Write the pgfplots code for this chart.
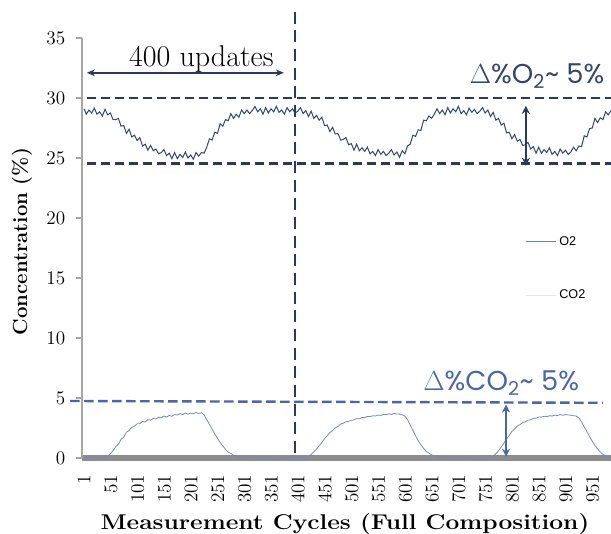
\documentclass[border=0pt]{standalone}
\usepackage{fontspec}
\usepackage{pgfplots}
\usepackage{pgfplotstable}
\pgfplotsset{compat=1.18}
\usetikzlibrary{arrows.meta}
\newfontfamily\poppins{Poppins}
\newfontfamily\libsans{Liberation Sans}
\definecolor{o2col}{RGB}{47,72,122}
\definecolor{navy}{RGB}{40,58,100}
\definecolor{co2col}{RGB}{112,138,198}
\definecolor{co2dash}{RGB}{72,102,170}
\definecolor{o2txt}{RGB}{52,70,110}
\definecolor{lego2}{RGB}{112,128,176}
\definecolor{legco2}{RGB}{226,230,242}
\definecolor{axgray}{RGB}{140,140,140}
\definecolor{ylgray}{RGB}{166,166,166}

\pgfplotstableread{
x y
1 29.1
5 28.65
10 29.0
15 28.75
20 29.15
25 28.65
30 28.85
35 28.5
40 29.05
45 28.6
50 28.75
55 28.2
60 28.2
65 28.3
70 27.65
75 27.7
80 27.05
85 27.4
90 26.75
95 26.9
100 26.45
105 26.7
110 26.0
115 26.15
120 25.65
125 26.05
130 25.6
135 25.75
140 25.35
145 25.45
150 25.7
155 25.2
160 25.4
165 24.95
170 25.45
175 24.95
180 25.3
185 25.05
190 25.5
195 25.0
200 25.25
205 24.9
210 25.45
215 25.15
220 25.45
225 25.4
230 25.9
235 26.6
240 26.5
245 27.15
250 27.05
255 27.85
260 27.65
265 28.2
270 28.1
275 28.7
280 28.3
285 28.65
290 28.4
295 29.0
300 28.7
305 29.0
310 28.7
315 28.95
320 29.3
325 28.85
330 29.1
335 28.65
340 29.2
345 28.75
350 29.1
355 28.85
360 29.3
365 28.8
370 29.0
375 28.65
380 29.2
385 28.85
390 29.1
395 28.75
400 28.9
405 29.2
410 28.7
415 28.95
420 28.45
425 28.9
430 28.3
435 28.55
440 28.15
445 28.4
450 27.7
455 27.75
460 27.2
465 27.55
470 27.0
475 27.05
480 26.5
485 26.55
490 26.7
495 26.1
500 26.2
505 25.65
510 26.15
515 25.6
520 25.85
525 25.55
530 25.9
535 25.35
540 25.55
545 25.2
550 25.7
555 25.3
560 25.55
565 25.2
570 25.4
575 25.7
580 25.25
585 25.5
590 25.05
595 25.6
600 25.35
605 26.0
610 26.15
615 26.9
620 26.8
625 27.35
630 27.3
635 28.15
640 28.1
645 28.5
650 28.3
655 28.65
660 29.1
665 28.7
670 29.0
675 28.6
680 29.2
685 28.75
690 29.1
695 28.85
700 29.3
705 28.7
710 28.95
715 28.6
720 29.15
725 28.8
730 29.05
735 28.7
740 28.9
745 29.2
750 28.75
755 29.0
760 28.45
765 28.8
770 28.15
775 28.3
780 27.75
785 27.9
790 27.1
795 27.15
800 26.6
805 26.95
810 26.4
815 26.55
820 26.05
825 26.1
830 26.3
835 25.75
840 25.95
845 25.4
850 25.9
855 25.4
860 25.7
865 25.45
870 25.85
875 25.3
880 25.55
885 25.2
890 25.75
895 25.4
900 25.65
905 25.3
910 25.5
915 25.9
920 25.6
925 26.0
930 25.95
935 26.85
940 26.75
945 27.45
950 27.5
955 28.3
960 27.95
965 28.35
970 28.2
975 28.85
980 28.6
985 28.95
}\otwo

\pgfplotstableread{
x y
1 0.05
5 0.12
10 0.0
15 0.08
20 0.1
25 0.02
30 0.06
35 0.0
40 0.08
45 0.15
50 0.35
55 0.6
60 0.95
65 1.15
70 1.55
75 1.75
80 2.15
85 2.3
90 2.55
95 2.65
100 2.85
105 2.85
110 3.05
115 3.0
120 3.2
125 3.15
130 3.3
135 3.25
140 3.4
145 3.35
150 3.5
155 3.42
160 3.55
165 3.48
170 3.62
175 3.58
180 3.7
185 3.62
190 3.75
195 3.66
200 3.74
205 3.68
210 3.8
215 3.7
220 3.78
225 3.6
230 3.2
235 2.8
240 2.4
245 2.0
250 1.65
255 1.3
260 1.0
265 0.72
270 0.5
275 0.38
280 0.22
285 0.18
290 0.1
295 0.14
300 0.06
305 0.12
310 0.04
315 0.1
320 0.02
330 0.06
340 0.0
350 0.05
360 0.02
370 0.06
380 0.0
390 0.04
400 0.02
405 0.06
410 0.03
415 0.08
420 0.15
425 0.3
430 0.52
435 0.74
440 1.02
445 1.28
450 1.62
455 1.84
460 2.12
465 2.28
470 2.52
475 2.62
480 2.82
485 2.9
490 3.02
495 3.05
500 3.14
505 3.18
510 3.28
515 3.26
520 3.38
525 3.36
530 3.47
535 3.44
540 3.52
545 3.5
550 3.58
555 3.54
560 3.64
565 3.6
570 3.68
575 3.62
580 3.72
585 3.66
590 3.68
595 3.6
600 3.5
605 3.2
610 2.75
615 2.3
620 1.85
625 1.45
630 1.1
635 0.8
640 0.56
645 0.4
650 0.26
655 0.2
660 0.14
665 0.1
670 0.12
680 0.04
690 0.08
700 0.02
710 0.06
720 0.0
730 0.05
740 0.02
750 0.06
755 0.04
760 0.08
765 0.16
770 0.36
775 0.6
780 0.92
785 1.24
790 1.6
795 1.88
800 2.22
805 2.42
810 2.66
815 2.78
820 2.96
825 3.02
830 3.16
835 3.18
840 3.3
845 3.32
850 3.42
855 3.4
860 3.48
865 3.44
870 3.52
875 3.5
880 3.57
885 3.54
890 3.62
895 3.56
900 3.62
905 3.58
910 3.57
915 3.52
920 3.5
925 3.35
930 3.0
935 2.6
940 2.2
945 1.8
950 1.4
955 1.05
960 0.75
965 0.5
970 0.3
975 0.2
980 0.1
985 0.06
}\cotwo

\begin{document}
\begin{tikzpicture}
\begin{axis}[
  scale only axis,
  width=396.75pt, height=315pt,
  at={(0,0)}, anchor=south west,
  xmin=-3, xmax=985, ymin=0, ymax=35,
  clip=false,
  axis lines*=left,
  x axis line style={draw=axgray, line width=4.5pt},
  y axis line style={draw=ylgray, line width=1.5pt},
  xtick={1,51,...,951},
  ytick={0,5,...,35},
  major x tick style={draw=none},
  major y tick style={draw=ylgray, line width=1pt},
  tick align=outside,
  major tick length=4.5pt,
  xticklabel style={rotate=90, anchor=east, font=\fontsize{15}{15}\selectfont},
  yticklabel style={font=\fontsize{15}{15}\selectfont},
  xticklabel shift=4.5pt,
  yticklabel shift=4.5pt,
  xlabel={\scalebox{1.15}[1]{\bfseries Measurement Cycles (Full Composition)}},
  ylabel={\bfseries Concentration (\%)},
  xlabel style={at={(axis description cs:0.497,-0.1714)}, anchor=base, font=\fontsize{16}{16}\selectfont},
  ylabel style={at={(axis description cs:-0.1134,0.515)}, anchor=center, font=\fontsize{15.3}{15.3}\selectfont},
  legend style={at={(0.83,0.541)}, anchor=north west, draw=none, fill=none,
    font=\libsans\fontsize{9.5}{10}\selectfont, row sep=28pt},
  legend cell align=left,
  legend image code/.code={\draw[#1] (0pt,0pt) -- (22.5pt,0pt);},
]
\addplot[co2col, line width=0.6pt, forget plot] table[x=x,y=y] {\cotwo};
\addplot[o2col, line width=0.75pt, forget plot] table[x=x,y=y] {\otwo};
\addlegendimage{lego2, line width=1pt}
\addlegendentry{O2}
\addlegendimage{legco2, line width=1pt}
\addlegendentry{CO2}

% O2 band
\draw[navy, line width=2pt, dash pattern=on 7pt off 3.5pt] (axis cs:6,30.0) -- (axis cs:995,30.0);
\draw[navy, line width=2pt, dash pattern=on 7pt off 3.5pt] (axis cs:6,24.55) -- (axis cs:995,24.55);
% vertical separator
\draw[navy, line width=2pt, dash pattern=on 9pt off 5pt] (axis cs:395,37.2) -- (axis cs:395,0);
% 400 updates
\draw[navy, line width=1.5pt, {Stealth[length=6pt,width=5pt]}-{Stealth[length=6pt,width=5pt]}] (axis cs:6,32.1) -- (axis cs:374,32.1);
\node[anchor=base, font=\fontsize{22.5}{22.5}\selectfont] at (axis cs:220,32.65) {400 updates};
% O2 delta arrow
\draw[navy, line width=2pt, {Stealth[length=6pt,width=6pt]}-{Stealth[length=6pt,width=6pt]}] (axis cs:826,29.35) -- (axis cs:826,24.35);
\node[anchor=base, text=o2txt, font=\poppins\fontsize{20.5}{20.5}\selectfont] at (axis cs:847,31.2) {$\Delta$\%O\textsubscript{2}\textasciitilde{} 5\%};
% CO2 band
\draw[co2dash, line width=1.8pt, dash pattern=on 7pt off 3.5pt] (axis cs:-25,4.75) -- (axis cs:970,4.6);
\draw[co2dash, line width=1.6pt, {Stealth[length=6pt,width=6pt]}-{Stealth[length=6pt,width=6pt]}] (axis cs:789,4.45) -- (axis cs:789,0.1);
\node[anchor=base, text=co2dash, font=\poppins\fontsize{20.5}{20.5}\selectfont] at (axis cs:780,5.6) {$\Delta$\%CO\textsubscript{2}\textasciitilde{} 5\%};
\end{axis}
\pgfresetboundingbox
\path[use as bounding box] (-61.5pt,-57pt) rectangle (396.75pt,343.5pt);
\end{tikzpicture}
\end{document}
